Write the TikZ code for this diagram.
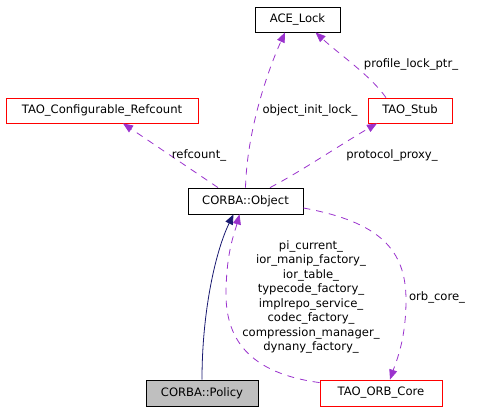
\documentclass[tikz,border=0pt]{standalone}
\usepackage{fontspec}
\setmainfont{DejaVu Sans}
\usepackage{xcolor}
\usetikzlibrary{calc}
\usetikzlibrary{positioning}
\usetikzlibrary{arrows.meta}
\definecolor{usecol}{HTML}{9A32CD}
\definecolor{inhcol}{HTML}{191970}
\definecolor{boxgray}{HTML}{BFBFBF}

\begin{document}
\begin{tikzpicture}[x=1pt, y=-1pt, ->, >={Triangle[length=10pt,width=8pt]}, line width=0.8pt, font=\fontsize{11.6}{14.5}\selectfont]
	\tikzstyle{cls}=[draw=black, rectangle, inner sep=0pt, minimum height=25pt, line width=0.8pt]
	\tikzstyle{ext}=[cls, draw=red]
	\tikzstyle{use}=[draw=usecol, dash pattern=on 7pt off 6pt, -{Triangle[length=10pt,width=8pt,fill=usecol]}]
	\tikzstyle{inh}=[draw=inhcol, -{Triangle[length=10pt,width=8pt,fill=inhcol]}]
	\tikzstyle{annot}=[align=center, inner sep=0pt]

	\useasboundingbox (0,0) rectangle (487,411);

	\node[cls, minimum width=85pt] (lock) at (297.5,19.5) {ACE\_Lock};
	\node[ext, minimum width=192pt] (refc) at (102,110.5) {TAO\_Configurable\_Refcount};
	\node[ext, minimum width=84pt] (stub) at (410,110.5) {TAO\_Stub};
	\node[cls, minimum width=115pt, minimum height=26pt] (obj) at (245.5,201) {CORBA::Object};
	\node[cls, minimum width=112pt, minimum height=26pt, fill=boxgray] (pol) at (202,393) {CORBA::Policy};
	\node[ext, minimum width=122pt, minimum height=26pt] (orb) at (381,393) {TAO\_ORB\_Core};

	\draw[use] ([xshift=-27.5pt]obj.north) -- ([xshift=21pt]refc.south);
	\draw[use] (obj.north) .. controls (247,130) and (268,70) .. ([xshift=-12.5pt]lock.south);
	\draw[use] ([xshift=24.5pt]obj.north) .. controls (300,172) and (340,145) .. ([xshift=-33pt]stub.south);
	\draw[use] ([xshift=-24pt]stub.north) .. controls (370,75) and (340,55) .. ([xshift=18pt]lock.south);
	\draw[use] ([yshift=-7pt]obj.east) .. controls (380,222) and (406,250) .. (406,300) .. controls (406,340) and (396,362) .. ([xshift=9pt]orb.north);
	\draw[use] ([yshift=-3pt]orb.north west) .. controls (240,372) and (225,330) .. (226,290) .. controls (227,250) and (234,235) .. ([xshift=-6pt]obj.south);
	\draw[inh] (pol.north) .. controls (202,310) and (216,250) .. ([xshift=-12pt]obj.south);

	\node[annot] (lrefc) at (199,155) {refcount\_};
	\node[annot] (linit) at (310,110) {object\_init\_lock\_};
	\node[annot] (lprox) at (392,155) {protocol\_proxy\_};
	\node[annot] (lprof) at (411,64) {profile\_lock\_ptr\_};
	\node[annot] (lorb) at (437,297) {orb\_core\_};
	\node[annot] (lmulti) at (311,297) {pi\_current\_\\ior\_manip\_factory\_\\ior\_table\_\\typecode\_factory\_\\implrepo\_service\_\\codec\_factory\_\\compression\_manager\_\\dynany\_factory\_};
\end{tikzpicture}
\end{document}
